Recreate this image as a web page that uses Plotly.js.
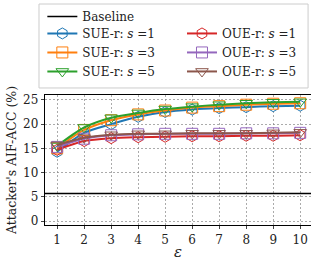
<!DOCTYPE html>
<html><head><meta charset="utf-8">
<script src="https://cdn.plot.ly/plotly-3.0.1.min.js"></script>
<style>html,body{margin:0;padding:0;background:#fff}</style>
</head><body>
<div id="chart" style="width:311px;height:261px"></div>
<script>
const epsilon = [1,2,3,4,5,6,7,8,9,10];
const baseline = 5.7;
const sue_s1 = [14.3, 18.2, 20.0, 21.5, 22.5, 23.0, 23.3, 23.5, 23.7, 23.8];
const sue_s3 = [15.0, 18.8, 20.8, 22.0, 22.8, 23.4, 23.7, 24.0, 24.2, 24.3];
const sue_s5 = [15.5, 19.3, 21.3, 22.3, 23.1, 23.6, 24.0, 24.3, 24.5, 24.6];
const oue_s1 = [14.7, 16.5, 17.1, 17.3, 17.4, 17.5, 17.5, 17.6, 17.6, 17.7];
const oue_s3 = [15.3, 17.0, 17.7, 17.9, 18.0, 18.0, 18.0, 18.1, 18.1, 18.2];
const oue_s5 = [15.7, 17.2, 17.8, 18.0, 18.0, 18.1, 18.1, 18.1, 18.2, 18.3];
const xRange = [0.55, 10.4];
const yRange = [-0.8, 26];

const serif = "DejaVu Serif";
function series(name, y, color, symbol, legend) {
  return {x: epsilon, y: y, name: name, type: 'scatter', mode: 'lines+markers',
    line: {color: color, width: 2, shape: 'spline', smoothing: 0.8},
    marker: {symbol: symbol, size: 11, color: color, line: {color: color, width: 1}},
    legend: legend};
}
const traces = [
  {x: xRange, y: [baseline, baseline], name: 'Baseline', type: 'scatter', mode: 'lines',
   line: {color: 'black', width: 1.5}, legend: 'legend', cliponaxis: false},
  series('SUE-r: <i>s</i> =1', sue_s1, '#1f77b4', 'hexagon-open', 'legend2'),
  series('SUE-r: <i>s</i> =3', sue_s3, '#ff7f0e', 'square-open', 'legend2'),
  series('SUE-r: <i>s</i> =5', sue_s5, '#2ca02c', 'triangle-down-open', 'legend2'),
  series('OUE-r: <i>s</i> =1', oue_s1, '#d62728', 'hexagon-open', 'legend3'),
  series('OUE-r: <i>s</i> =3', oue_s3, '#9467bd', 'square-open', 'legend3'),
  series('OUE-r: <i>s</i> =5', oue_s5, '#8c564b', 'triangle-down-open', 'legend3'),
];
const legendCommon = {xanchor: 'left', yanchor: 'top', bgcolor: 'rgba(0,0,0,0)',
  font: {family: serif, size: 12, color: '#222'}, tracegroupgap: 0, itemwidth: 30};
const layout = {
  width: 311, height: 261,
  margin: {l: 45, r: 0, t: 95, b: 36},
  paper_bgcolor: 'white', plot_bgcolor: 'white',
  font: {family: serif, size: 12, color: '#222'},
  xaxis: {range: xRange, tickvals: epsilon, ticks: 'outside', ticklen: 3, showline: true,
    linecolor: 'black', linewidth: 1.2, mirror: true, showgrid: true, gridcolor: '#888',
    griddash: '2px,2px', gridwidth: 0.7, zeroline: false,
    title: {text: '<i>ε</i>', font: {family: serif, size: 15}, standoff: 3}},
  yaxis: {range: yRange, dtick: 5, tick0: 0, ticks: 'outside', ticklen: 3, showline: true,
    linecolor: 'black', linewidth: 1.2, mirror: true, showgrid: true, gridcolor: '#888',
    griddash: '2px,2px', gridwidth: 0.7, zeroline: false,
    title: {text: "Attacker's AIF-ACC (%)", font: {family: serif, size: 12.5}, standoff: 3}},
  showlegend: true,
  legend: Object.assign({x: -0.01, y: 1.715}, legendCommon),
  legend2: Object.assign({x: -0.01, y: 1.585}, legendCommon),
  legend3: Object.assign({x: 0.515, y: 1.585}, legendCommon),
  shapes: [{type: 'rect', xref: 'paper', yref: 'paper', x0: -0.0226, x1: 0.989, y0: 1.054, y1: 1.70,
    line: {color: '#cccccc', width: 1}, fillcolor: 'rgba(0,0,0,0)'}]
};
Plotly.newPlot('chart', traces, layout, {staticPlot: true, displayModeBar: false});
</script>
</body></html>
